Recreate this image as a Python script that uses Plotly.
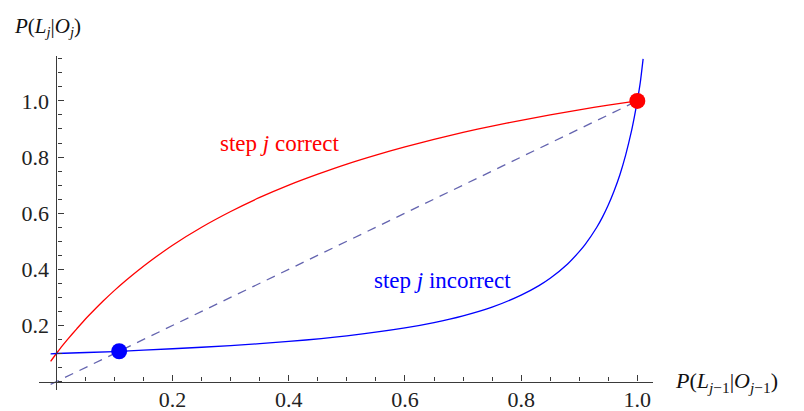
import plotly.graph_objects as go

# Values
red_x = [-0.01, 0, 0.01, 0.02, 0.035, 0.05, 0.065, 0.08, 0.1, 0.12, 0.14, 0.16, 0.2, 0.25, 0.3,
         0.35, 0.4, 0.45, 0.5, 0.55, 0.6, 0.65, 0.7, 0.75, 0.8, 0.85, 0.9, 0.95, 1.0]
red_y = [0.072, 0.100, 0.127, 0.152, 0.188, 0.223, 0.255, 0.286, 0.325, 0.361, 0.395, 0.427, 0.486,
         0.550, 0.606, 0.656, 0.700, 0.739, 0.775, 0.807, 0.836, 0.863, 0.888, 0.910, 0.931, 0.950,
         0.968, 0.985, 1.000]

blue_x = [-0.01, 0, 0.1, 0.2, 0.3, 0.4, 0.5, 0.6, 0.65, 0.7, 0.75, 0.8, 0.83, 0.85, 0.88, 0.9, 0.91,
          0.93, 0.94, 0.95, 0.96, 0.97, 0.98, 0.99, 0.995, 1.0, 1.005, 1.01]
blue_y = [0.099, 0.100, 0.107, 0.117, 0.128, 0.143, 0.163, 0.191, 0.210, 0.234, 0.265, 0.308, 0.341,
          0.368, 0.419, 0.463, 0.488, 0.549, 0.586, 0.629, 0.679, 0.737, 0.808, 0.893, 0.944, 1.000,
          1.064, 1.15]

diag_x = [-0.01, 1.0]
diag_y = [-0.01, 1.0]

red_point = (1.0, 1.0)
blue_point = (0.108, 0.108)

tick_vals = [0.2, 0.4, 0.6, 0.8, 1.0]
tick_text = ["0.2", "0.4", "0.6", "0.8", "1.0"]

x_label = "<i>P</i>(<i>L</i><sub><i>j</i>−1</sub>|<i>O</i><sub><i>j</i>−1</sub>)"
y_label = "<i>P</i>(<i>L</i><sub><i>j</i></sub>|<i>O</i><sub><i>j</i></sub>)"
label_correct = "step <i>j</i> correct"
label_incorrect = "step <i>j</i> incorrect"

XR = [-0.03, 1.027]
YR = [-0.03, 1.16]

FONT = "Liberation Serif"
AX = "#3a3a3a"


def px(x):
    return (x - XR[0]) / (XR[1] - XR[0])


def py(y):
    return (y - YR[0]) / (YR[1] - YR[0])


fig = go.Figure()
fig.add_trace(go.Scatter(x=diag_x, y=diag_y, mode="lines",
                         line=dict(color="rgb(100,100,175)", width=1.3, dash="9px,7px")))
fig.add_trace(go.Scatter(x=red_x, y=red_y, mode="lines",
                         line=dict(color="#ff0000", width=1.3, shape="spline", smoothing=0.6)))
fig.add_trace(go.Scatter(x=blue_x, y=blue_y, mode="lines",
                         line=dict(color="#0000ff", width=1.3, shape="spline", smoothing=0.6)))
fig.add_trace(go.Scatter(x=[blue_point[0]], y=[blue_point[1]], mode="markers",
                         marker=dict(color="#0000ff", size=16), cliponaxis=False))
fig.add_trace(go.Scatter(x=[red_point[0]], y=[red_point[1]], mode="markers",
                         marker=dict(color="#ff0000", size=16), cliponaxis=False))

common = dict(showgrid=False, zeroline=False, showline=True, linecolor=AX, linewidth=1.2,
              anchor="free", automargin=False, ticks="inside", ticklen=6, tickwidth=1, tickcolor=AX,
              tickmode="array", tickvals=tick_vals, ticktext=tick_text,
              tickfont=dict(family=FONT, size=22, color="#222"),
              minor=dict(tickmode="linear", tick0=0, dtick=0.05, ticks="inside", ticklen=4,
                         tickwidth=1, tickcolor=AX, showgrid=False))

fig.update_layout(
    width=804, height=411,
    margin=dict(l=39, r=151, t=56, b=21),
    plot_bgcolor="white", paper_bgcolor="white",
    showlegend=False,
    xaxis=dict(range=XR, position=py(0), ticklabelstandoff=-2, **common),
    yaxis=dict(range=YR, position=px(0), ticklabelstandoff=3, **common),
    annotations=[
        dict(x=px(-0.0766), y=py(1.262), xref="paper", yref="paper", text=y_label, showarrow=False,
             xanchor="left", yanchor="middle", font=dict(family=FONT, size=21, color="#111")),
        dict(x=px(1.0615), y=py(0.0), xref="paper", yref="paper", text=x_label, showarrow=False,
             xanchor="left", yanchor="middle", font=dict(family=FONT, size=22, color="#111")),
        dict(x=px(0.3835), y=py(0.85), xref="paper", yref="paper", text=label_correct, showarrow=False,
             xanchor="center", yanchor="middle", font=dict(family=FONT, size=23, color="#ff0000")),
        dict(x=px(0.665), y=py(0.36), xref="paper", yref="paper", text=label_incorrect, showarrow=False,
             xanchor="center", yanchor="middle", font=dict(family=FONT, size=23, color="#0000ff")),
    ],
)

fig.write_html("out.html",
               config={"displayModeBar": False},
               post_script="document.body.style.margin='0';document.body.style.padding='0';"
                           "document.body.style.overflow='hidden';")
